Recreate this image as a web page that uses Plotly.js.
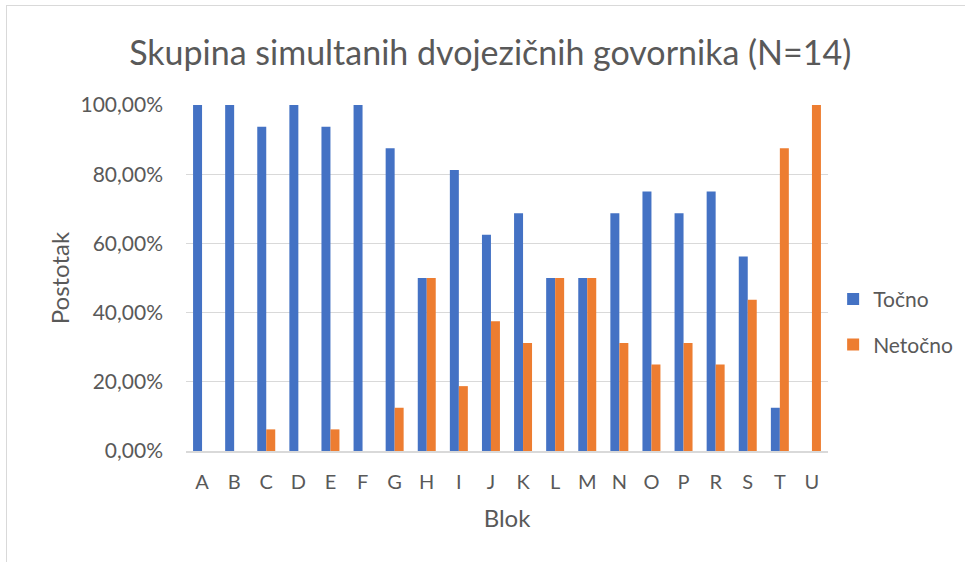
<!DOCTYPE html>
<html>
<head>
<meta charset="utf-8">
<script src="https://cdn.plot.ly/plotly-3.0.1.min.js"></script>
<style>
html,body{margin:0;padding:0;background:#fff;}
#wrap{position:relative;width:965px;height:562px;overflow:hidden;}
#frame{position:absolute;left:6px;top:5px;width:1000px;height:600px;border-top:1px solid #D9D9D9;border-left:1px solid #D9D9D9;pointer-events:none;}
#chart{position:absolute;left:0;top:0;width:965px;height:562px;}
</style>
</head>
<body>
<div id="wrap"><div id="chart"></div><div id="frame"></div></div>
<script>
const categories = ["A","B","C","D","E","F","G","H","I","J","K","L","M","N","O","P","R","S","T","U"];
const tocno   = [1.00,1.00,0.9375,1.00,0.9375,1.00,0.875,0.50,0.8125,0.625,0.6875,0.50,0.50,0.6875,0.75,0.6875,0.75,0.5625,0.125,0.00];
const netocno = [0.00,0.00,0.0625,0.00,0.0625,0.00,0.125,0.50,0.1875,0.375,0.3125,0.50,0.50,0.3125,0.25,0.3125,0.25,0.4375,0.875,1.00];
const seriesNames = ["Točno","Netočno"];

const font = "Lato, 'Open Sans', sans-serif";
const grey = "#595959";

const traces = [
  {type:"bar", name:seriesNames[0], legendgroup:"g1", x:categories, y:tocno, marker:{color:"#4472C4"}},
  {type:"bar", name:seriesNames[1], legendgroup:"g2", x:categories, y:netocno, marker:{color:"#ED7D31"}}
];

const layout = {
  width:965, height:562,
  paper_bgcolor:"rgba(0,0,0,0)", plot_bgcolor:"#fff",
  margin:{l:186, r:137, t:105, b:111, autoexpand:false},
  separators:",.",
  barmode:"group", bargap:0.44, bargroupgap:0,
  font:{family:font, color:grey, size:21},
  title:{text:"Skupina simultanih dvojezičnih govornika (N=14)", font:{family:font, size:34, color:grey}, x:0.508, xanchor:"center", y:0.905, yanchor:"middle"},
  xaxis:{title:{text:"Blok", font:{size:24, color:grey}, standoff:18}, tickfont:{size:20, color:grey}, showline:true, linecolor:"#D9D9D9", linewidth:1.5, ticks:"", showgrid:false, ticklabelstandoff:12},
  yaxis:{title:{text:"Postotak", font:{size:24, color:grey}, standoff:4}, range:[0,1], dtick:0.2, tickformat:".2%", tickfont:{size:21, color:grey}, gridcolor:"#D9D9D9", gridwidth:1, zeroline:false, showline:false, ticks:"", ticklabelstandoff:22},
  legend:{x:1.008, y:0.373, xanchor:"left", yanchor:"middle", traceorder:"grouped", font:{size:21, color:grey}, tracegroupgap:15, itemwidth:20, bgcolor:"rgba(0,0,0,0)"},
  showlegend:true
};

Plotly.newPlot("chart", traces, layout, {displayModeBar:false, staticPlot:true});
</script>
</body>
</html>
